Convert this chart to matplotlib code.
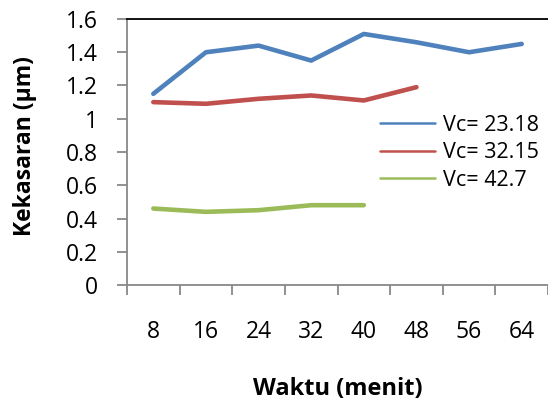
import matplotlib.pyplot as plt
import numpy as np

plt.rcParams['font.family'] = ['Open Sans', 'DejaVu Sans']

waktu = ['8', '16', '24', '32', '40', '48', '56', '64']
vc_23 = [1.15, 1.40, 1.44, 1.35, 1.51, 1.46, 1.40, 1.45]
vc_32 = [1.10, 1.09, 1.12, 1.14, 1.11, 1.19]
vc_42 = [0.46, 0.44, 0.45, 0.48, 0.48]

fig = plt.figure(figsize=(5.48, 4.05), dpi=100)
ax = fig.add_axes([127/548, 120/405, 421/548, 266/405])

x = np.arange(len(waktu))
ax.plot(x[:len(vc_23)], vc_23, color='#4F81BD', lw=3.3, label='Vc= 23.18', solid_capstyle='round')
ax.plot(x[:len(vc_32)], vc_32, color='#C0504D', lw=3.3, label='Vc= 32.15', solid_capstyle='round')
ax.plot(x[:len(vc_42)], vc_42, color='#9BBB59', lw=3.3, label='Vc= 42.7', solid_capstyle='round')

ax.set_xlim(-0.5, len(waktu) - 0.5)
ax.set_ylim(0, 1.6)
ax.set_yticks(np.arange(0, 1.61, 0.2))
ax.set_yticklabels(['0', '0.2', '0.4', '0.6', '0.8', '1', '1.2', '1.4', '1.6'])
ax.set_xticks(x)
ax.set_xticklabels(waktu)
ax.set_xticks(np.arange(-0.5, len(waktu)), minor=True)
ax.tick_params(axis='x', which='major', length=0, pad=25, labelsize=16.5)
ax.tick_params(axis='x', which='minor', length=7, width=1.3, color='#888888')
ax.tick_params(axis='y', length=7, width=1.3, color='#888888', pad=14, labelsize=16.5)

for s in ['left', 'bottom']:
    ax.spines[s].set_color('#888888')
    ax.spines[s].set_linewidth(1.3)
ax.spines['top'].set_color('black')
ax.spines['top'].set_linewidth(1.3)
ax.spines['right'].set_visible(False)

ax.set_xlabel('Waktu (menit)', fontsize=17, fontweight='bold', labelpad=24)
ax.set_ylabel('Kekasaran (µm)', fontsize=16.5, fontweight='bold')
ax.yaxis.set_label_coords(-0.214, 0.524)

leg = ax.legend(loc='upper left', bbox_to_anchor=(0.601, 0.64), frameon=False,
                fontsize=15.5, handlelength=2.55, handletextpad=0.37, labelspacing=0.3,
                borderpad=0, borderaxespad=0)
for h in leg.get_lines():
    h.set_linewidth(1.8)

fig.savefig('out.png', dpi=100)
